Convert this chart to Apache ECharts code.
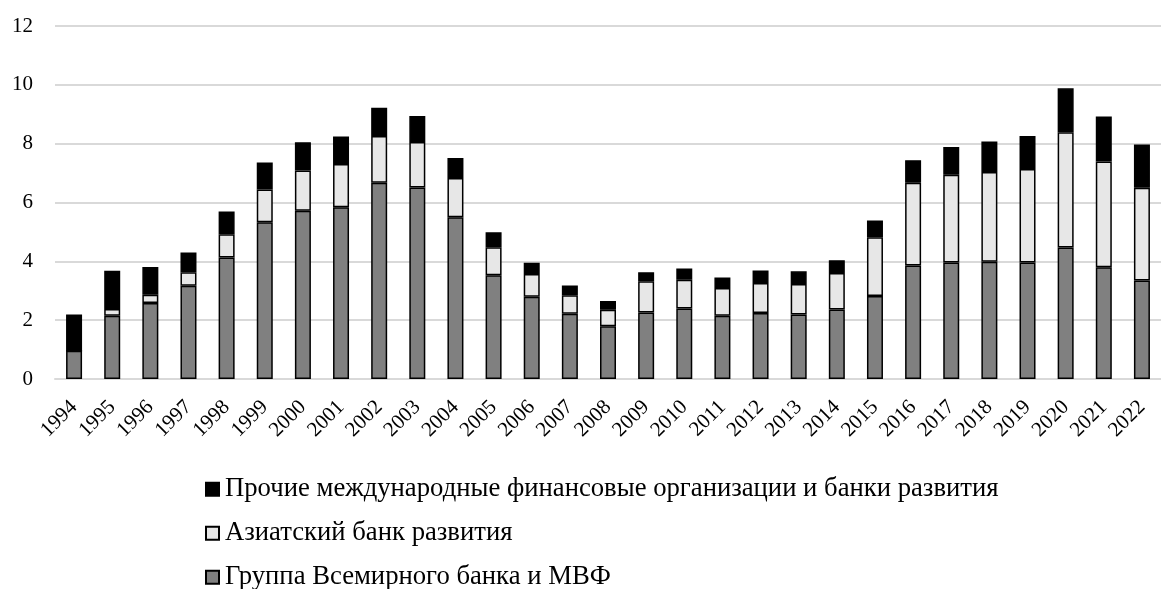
<!DOCTYPE html>
<html>
<head>
<meta charset="utf-8">
<script src="https://cdn.jsdelivr.net/npm/echarts@6/dist/echarts.min.js"></script>
<style>
  html, body { margin: 0; padding: 0; background: #fff; }
  #chart { width: 1161px; height: 589px; }
</style>
</head>
<body>
<div id="chart"></div>
<script>
// Years on the category axis
const years = ['1994','1995','1996','1997','1998','1999','2000','2001','2002','2003',
  '2004','2005','2006','2007','2008','2009','2010','2011','2012','2013',
  '2014','2015','2016','2017','2018','2019','2020','2021','2022'];

// Series names (legend order)
const nameOther = 'Прочие международные финансовые организации и банки развития';
const nameADB = 'Азиатский банк развития';
const nameWB = 'Группа Всемирного банка и МВФ';

// World Bank Group and IMF
const wbImf = [0.96, 2.15, 2.58, 3.17, 4.13, 5.33, 5.72, 5.84, 6.67, 6.51,
  5.50, 3.53, 2.80, 2.22, 1.79, 2.26, 2.40, 2.15, 2.24, 2.19,
  2.36, 2.82, 3.86, 3.96, 3.99, 3.96, 4.47, 3.80, 3.35];

// Asian Development Bank
const adb = [0.00, 0.23, 0.28, 0.46, 0.79, 1.11, 1.37, 1.47, 1.59, 1.55,
  1.33, 0.95, 0.77, 0.63, 0.56, 1.06, 0.97, 0.94, 1.02, 1.04,
  1.24, 2.00, 2.81, 2.98, 3.05, 3.18, 3.92, 3.59, 3.15];

// Other international financial institutions and development banks
const other = [1.23, 1.30, 0.95, 0.67, 0.77, 0.92, 0.96, 0.93, 0.96, 0.88,
  0.68, 0.51, 0.38, 0.33, 0.30, 0.31, 0.39, 0.36, 0.43, 0.43,
  0.44, 0.57, 0.77, 0.95, 1.03, 1.12, 1.49, 1.53, 1.47];

// Value axis ticks
const yMin = 0, yMax = 12, yStep = 2;

const FONT = '"Liberation Serif", "DejaVu Serif", serif';
const LEGEND_FONT = 26.7;

function barSeries(name, data, color) {
  return {
    name: name,
    type: 'bar',
    stack: 'total',
    data: data,
    barWidth: 16,
    itemStyle: { color: color, borderColor: '#000', borderWidth: 1.5 },
    emphasis: { disabled: true }
  };
}

// One legend block per row, stacked vertically under the axis
function legendRow(name, centerY) {
  return {
    orient: 'vertical',
    left: 205,
    top: centerY - LEGEND_FONT / 2,
    padding: 0,
    itemWidth: 13,
    itemHeight: 13,
    itemGap: 0,
    icon: 'rect',
    data: [name],
    textStyle: { fontFamily: FONT, fontSize: LEGEND_FONT, color: '#000', padding: [0, 0, 0, 1] }
  };
}

const chart = echarts.init(document.getElementById('chart'), null, { renderer: 'canvas' });
chart.setOption({
  animation: false,
  backgroundColor: '#fff',
  textStyle: { fontFamily: FONT, color: '#000' },
  grid: { left: 55, right: -12, top: 26, bottom: 210, containLabel: false },
  legend: [
    legendRow(nameOther, 489),
    legendRow(nameADB, 533),
    legendRow(nameWB, 577)
  ],
  xAxis: {
    type: 'category',
    data: years,
    axisLine: { lineStyle: { color: '#d9d9d9', width: 2 } },
    axisTick: { show: false },
    axisLabel: {
      interval: 0,
      rotate: 45,
      margin: 25,
      fontFamily: FONT,
      fontSize: 21,
      color: '#000'
    }
  },
  yAxis: {
    type: 'value',
    min: yMin,
    max: yMax,
    interval: yStep,
    axisLine: { show: false },
    axisTick: { show: false },
    splitLine: { lineStyle: { color: '#d9d9d9', width: 2 } },
    axisLabel: { margin: 22, fontFamily: FONT, fontSize: 21, color: '#000' }
  },
  series: [
    barSeries(nameWB, wbImf, '#808080'),
    barSeries(nameADB, adb, '#e7e7e7'),
    barSeries(nameOther, other, '#000000')
  ]
});
</script>
</body>
</html>
